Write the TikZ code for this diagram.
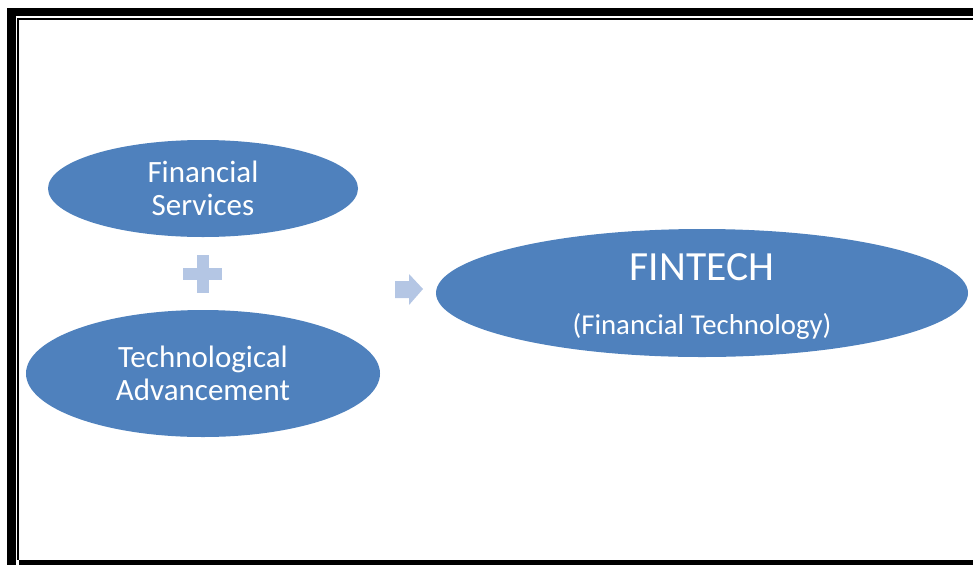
\documentclass[tikz,border=0pt]{standalone}
\usepackage{fontspec}
\setmainfont{Carlito}
\usetikzlibrary{shapes.geometric}
\definecolor{ellblue}{HTML}{4F81BD}
\definecolor{softblue}{HTML}{B4C6E4}
\tikzset{
  bubble/.style={ellipse, fill=ellblue, draw=none, inner sep=0pt, text=white, align=center,
                 font=\fontsize{31}{33.5}\selectfont},
  frameink/.style={fill=black},
  deco/.style={fill=softblue},
  bigtxt/.style={text=white, inner sep=0pt, anchor=base, font=\fontsize{41.5}{44}\selectfont},
  subtxt/.style={text=white, inner sep=0pt, anchor=base, font=\fontsize{28.8}{32}\selectfont}
}
\begin{document}
\begin{tikzpicture}[x=1pt,y=-1pt]
\useasboundingbox (0,0) rectangle (973,565);
% frame
\fill[frameink] (7,8) rectangle (973,16);
\fill[frameink] (7,8) rectangle (16,565);
\fill[frameink] (17,17.5) rectangle (973,20);
\fill[frameink] (17,17.5) rectangle (19,560);
\fill[frameink] (19,560) rectangle (973,565);
% ellipses
\node[bubble, minimum width=310pt, minimum height=97pt] (fin) at (203,188.5) {Financial\\Services};
\node[bubble, minimum width=354pt, minimum height=127pt] (tech) at (203,373.5) {Technological\\Advancement};
\node[bubble, minimum width=532pt, minimum height=128pt] (fintech) at (702,293) {};
\node[bigtxt] (fintechname) at (702,280) {FINTECH};
\node[subtxt] (fintechsub) at (702,334) {(Financial Technology)};
% plus sign
\coordinate (plus) at (203,274);
\fill[deco] (plus) ++(-20,-6) rectangle ++(39,12);
\fill[deco] (plus) ++(-6,-19) rectangle ++(12,38);
% arrow
\coordinate (arr) at (395,289);
\fill[deco] (arr) ++(0,-8) -- ++(14,0) -- ++(0,-7) -- ++(14,15) -- ++(-14,16) -- ++(0,-7) -- ++(-14,0) -- cycle;
\end{tikzpicture}
\end{document}
